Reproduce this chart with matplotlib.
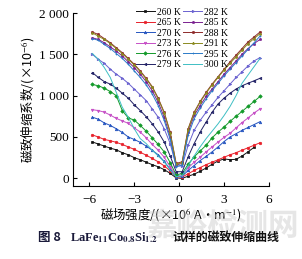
import numpy as np
import matplotlib
matplotlib.use("Agg")
import matplotlib.pyplot as plt

plt.rcParams['mathtext.fontset'] = 'stix'

field = [-5.8, -5.4, -5.0, -4.6, -4.2, -3.8, -3.4, -3.0, -2.6, -2.2, -1.8, -1.4, -1.0, -0.6, -0.2,
         0.2, 0.6, 1.0, 1.4, 1.8, 2.2, 2.6, 3.0, 3.4, 3.8, 4.2, 4.6, 5.0, 5.4]

nan = np.nan
s260 = [440, 415, 390, 365, 345, 310, 285, 250, 225, 195, 165, 140, 105, 60, 5,
        0, 25, 50, 85, 125, 170, 210, 235, 225, 230, 270, 320, 375, nan]
s265 = [525, 500, 470, 455, 435, 410, 380, 350, 315, 280, 240, 200, 150, 90, 20,
        15, 55, 95, 130, 165, 195, 225, 255, 285, 310, 340, 370, 400, 430]
s270 = [740, 715, 670, 640, 600, 555, 500, 470, 435, 390, 340, 285, 205, 110, 20,
        25, 95, 155, 215, 265, 320, 380, 445, 500, 540, 580, 615, 650, 685]
s273 = [830, 820, 800, 765, 725, 695, 665, 610, 560, 490, 410, 340, 255, 140, 30,
        45, 125, 195, 255, 320, 380, 440, 495, 545, 610, 675, 730, 790, 840]
s276 = [1135, 1120, 1090, 1050, 1000, 820, 730, 705, 640, 570, 490, 410, 320, 190, 40,
        60, 170, 260, 330, 400, 490, 560, 620, 690, 750, 810, 870, 930, 990]
s279 = [1280, 1220, 1170, 1140, 1090, 1030, 970, 890, 820, 745, 660, 560, 440, 270, 80,
        80, 260, 420, 560, 680, 800, 900, 970, 1030, 1080, 1120, 1150, 1180, 1210]
s282 = [1500, 1440, 1390, 1320, 1260, 1210, 1150, 1080, 1010, 940, 840, 740, 600, 420, 150,
        150, 400, 580, 700, 800, 890, 980, 1060, 1140, 1220, 1290, 1360, 1420, 1460]
s285 = [1700, 1680, 1640, 1590, 1540, 1480, 1410, 1340, 1260, 1170, 1060, 920, 740, 500, 160,
        180, 560, 760, 880, 990, 1080, 1170, 1260, 1340, 1420, 1500, 1570, 1630, 1680]
s288 = [1770, 1740, 1690, 1640, 1580, 1520, 1450, 1380, 1300, 1210, 1110, 970, 800, 560, 180,
        200, 600, 800, 930, 1040, 1140, 1230, 1320, 1410, 1490, 1570, 1650, 1710, 1770]
s291 = [1760, 1720, 1680, 1630, 1570, 1510, 1440, 1370, 1290, 1200, 1100, 960, 790, 550, 170,
        190, 590, 790, 920, 1030, 1130, 1220, 1310, 1390, 1470, 1550, 1630, 1690, 1750]
s295 = [1690, 1670, 1620, 1570, 1510, 1450, 1380, 1300, 1220, 1130, 1020, 880, 700, 470, 140,
        160, 520, 720, 850, 960, 1060, 1150, 1240, 1320, 1400, 1480, 1560, 1640, 1720]
s300 = [1510, 1440, 1340, 1220, 1040, 860, 740, 600, 480, 420, 340, 270, 200, 100, 20,
        30, 150, 270, 380, 480, 570, 660, 760, 870, 1000, 1150, 1250, 1350, 1450]

labels = ['260 K', '265 K', '270 K', '273 K', '276 K', '279 K',
          '282 K', '285 K', '288 K', '291 K', '295 K', '300 K']
series = [s260, s265, s270, s273, s276, s279, s282, s285, s288, s291, s295, s300]
colors = ['#111111', '#e8202a', '#2555c0', '#c64fc6', '#139a2a', '#222266',
          '#6a62d0', '#7a2090', '#8e2a2a', '#8a8a20', '#2a7ac8', '#3fbfc4']
markers = ['s', 'o', '^', 'v', 'D', '<', '>', 'p', 'h', '*', '+', '']

fig = plt.figure(figsize=(3.02, 2.59), dpi=100)

# watermark (behind everything)
fig.text(222/302, 1 - 226/259, '嘉峪检测网', ha='center', va='center', fontsize=22,
         color='#c8c8c8', alpha=0.45, family=['Noto Sans CJK SC'], fontweight='bold',
         zorder=0)

ax = fig.add_axes([73/302, 1-186/259, (269-73)/302, (186-13)/259])
ax.patch.set_alpha(0)

for y, lab, c, m in zip(series, labels, colors, markers):
    ax.plot(field, y, color=c, marker=m, markersize=1.8, linewidth=0.7, label=lab,
            markeredgewidth=0.5)

ax.set_xlim(-7.09, 6.0)
ax.set_ylim(-93, 2000)
ax.set_xticks([-6, -3, 0, 3, 6])
ax.set_xticklabels(['\u22126', '\u22123', '0', '3', '6'])
ax.set_yticks([0, 500, 1000, 1500, 2000])
ax.set_yticklabels(['0', '500', '1 000', '1 500', '2 000'])
for sp in ['top', 'right']:
    ax.spines[sp].set_visible(False)
for sp in ['left', 'bottom']:
    ax.spines[sp].set_linewidth(0.8)
ax.tick_params(direction='in', length=3, width=0.8, labelsize=9.5)
ax.tick_params(axis='x', pad=6)
ax.tick_params(axis='y', pad=3)
for t in ax.get_xticklabels() + ax.get_yticklabels():
    t.set_fontfamily('Liberation Serif')

ax.set_ylabel('磁致伸缩系数/(×10$^{-6}$)', family=['Noto Sans CJK SC', 'DejaVu Sans'],
              fontsize=9, labelpad=1)
ax.set_xlabel('磁场强度/(×10$^{6}$ A·m$^{-1}$)', family=['Noto Sans CJK SC', 'DejaVu Sans'],
              fontsize=9, labelpad=0)

leg = ax.legend(ncol=2, loc='upper left', bbox_to_anchor=(0.32, 1.03), frameon=False,
                prop={'family': 'Liberation Serif', 'size': 7},
                handlelength=2.0, handletextpad=0.2, columnspacing=0.2,
                labelspacing=0.15, borderaxespad=0.0, borderpad=0.0)

cap_y = 1 - 238/259
cap_color = '#1a1a3a'
fig.text(38/302, cap_y, '图 8', ha='left', va='center', fontsize=9, fontweight='bold',
         color=cap_color, family=['Noto Sans CJK SC'])
fig.text(70/302, cap_y, r'LaFe$_{\mathbf{11}}$Co$_{\mathbf{0.8}}$Si$_{\mathbf{1.2}}$',
         ha='left', va='center', fontsize=9, fontweight='bold', color=cap_color,
         family=['Liberation Serif'])
fig.text(279/302, cap_y, '试样的磁致伸缩曲线', ha='right', va='center', fontsize=8.6,
         fontweight='bold', color='#111111', family=['Noto Sans CJK SC'])

fig.savefig('out.png', dpi=100)
